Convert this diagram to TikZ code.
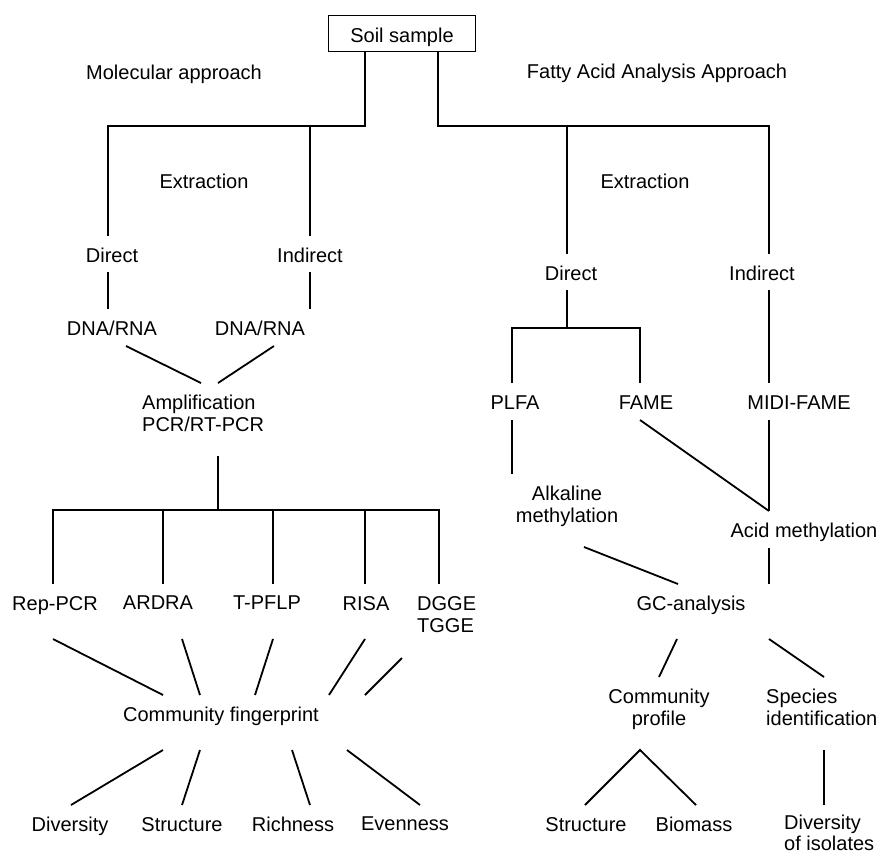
\documentclass[tikz,border=0pt]{standalone}
\usepackage{fontspec}
\setmainfont{Liberation Sans}
\begin{document}
\begin{tikzpicture}[x=1pt,y=-1pt,
  lbl/.style={inner sep=0pt, font=\fontsize{20}{22}\selectfont, anchor=north},
  lbll/.style={lbl, anchor=north west, align=left},
  lblc/.style={lbl, align=center},
  conn/.style={line width=1.8pt}]
\fill[white] (0,0) rectangle (878,854);
\useasboundingbox (0,0) rectangle (878,854);
% ---- nodes ----
\node (soil) [draw, line width=1.8pt, minimum width=147pt, minimum height=36pt, inner sep=0pt,
  text height=17.3pt, text depth=0pt, font=\fontsize{20}{22}\selectfont] at (402,33.5) {Soil sample};
\node (mol) [lbl] at (174,65) {Molecular approach};
\node (fat) [lbl] at (657,64) {Fatty Acid Analysis Approach};
\node (extL) [lbl] at (204,174) {Extraction};
\node (extR) [lbl] at (645,174) {Extraction};
\node (dirL) [lbl] at (112,248) {Direct};
\node (indL) [lbl] at (310,248) {Indirect};
\node (dirR) [lbl] at (571,266) {Direct};
\node (indR) [lbl] at (762,266) {Indirect};
\node (dnaL) [lbl] at (112,321) {DNA/RNA};
\node (dnaR) [lbl] at (260,321) {DNA/RNA};
\node (amp) [lbll] at (142,395) {Amplification\\PCR/RT-PCR};
\node (rep) [lbl] at (55,596) {Rep-PCR};
\node (ardra) [lbl] at (158,596) {ARDRA};
\node (tpflp) [lbl] at (267,596) {T-PFLP};
\node (risa) [lbl] at (366,596) {RISA};
\node (dgge) [lbll] at (417,596) {DGGE\\TGGE};
\node (cf) [lbl] at (221,707) {Community fingerprint};
\node (div) [lbl] at (70,817) {Diversity};
\node (strL) [lbl] at (182,817) {Structure};
\node (rich) [lbl] at (293,817) {Richness};
\node (even) [lbl] at (405,817) {Evenness};
\node (plfa) [lbl] at (515,396) {PLFA};
\node (fame) [lbl] at (646,396) {FAME};
\node (midi) [lbl] at (799,396) {MIDI-FAME};
\node (alk) [lblc] at (567,486) {Alkaline\\methylation};
\node (acid) [lbl] at (804,523) {Acid methylation};
\node (gc) [lbl] at (691,596) {GC-analysis};
\node (cp) [lblc] at (659,689) {Community\\profile};
\node (spec) [lbll] at (766,689) {Species\\identification};
\node (strR) [lbl] at (586,817) {Structure};
\node (bio) [lbl] at (694,817) {Biomass};
\node (doi) [lbll, font=\fontsize{20}{21}\selectfont] at (784,815) {Diversity\\of isolates};
% ---- connector coordinates ----
\coordinate (sL) at (365,52);   \coordinate (sLc) at (365,126);
\coordinate (bL) at (108,126);  \coordinate (dirLn) at (108,236);
\coordinate (indLt) at (310,126); \coordinate (indLn) at (310,236);
\coordinate (sR) at (438,52);   \coordinate (sRc) at (438,126);
\coordinate (bR) at (769,126);  \coordinate (indRn) at (769,254);
\coordinate (dirRt) at (567,126); \coordinate (dirRn) at (567,254);
\coordinate (dirLs) at (108,272); \coordinate (dnaLn) at (108,309);
\coordinate (indLs) at (310,272); \coordinate (dnaRn) at (310,309);
\coordinate (dnaLs) at (126,346); \coordinate (ampnL) at (201,383);
\coordinate (dnaRs) at (274,346); \coordinate (ampnR) at (218,383);
\coordinate (amps) at (218,456); \coordinate (ampb) at (218,510);
\coordinate (b1) at (53,510); \coordinate (b5) at (439,510);
\coordinate (b2) at (163,510); \coordinate (b3) at (273,510); \coordinate (b4) at (365,510);
\coordinate (repn) at (53,584); \coordinate (ardran) at (163,584); \coordinate (tpflpn) at (273,584);
\coordinate (risan) at (365,584); \coordinate (dggen) at (439,584);
\coordinate (reps) at (53,639); \coordinate (cf1) at (163,695);
\coordinate (ardras) at (182,639); \coordinate (cf2) at (200,695);
\coordinate (tpflps) at (273,639); \coordinate (cf3) at (255,695);
\coordinate (risas) at (365,639); \coordinate (cf4) at (329,695);
\coordinate (dgges) at (402,658); \coordinate (cf5) at (365,695);
\coordinate (cfs1) at (163,750); \coordinate (divn) at (71,805);
\coordinate (cfs2) at (200,750); \coordinate (strLn) at (182,805);
\coordinate (cfs3) at (292,750); \coordinate (richn) at (310,805);
\coordinate (cfs4) at (347,750); \coordinate (evenn) at (420,805);
\coordinate (dirRs) at (567,290); \coordinate (dirRb) at (567,328);
\coordinate (bp) at (512,328); \coordinate (bf) at (640,328);
\coordinate (plfan) at (512,383); \coordinate (famen) at (640,383);
\coordinate (indRs) at (769,290); \coordinate (midin) at (769,383);
\coordinate (plfas) at (512,420); \coordinate (alkn) at (512,474);
\coordinate (fames) at (640,420); \coordinate (acidn) at (769,511);
\coordinate (midis) at (769,420);
\coordinate (acids) at (769,548); \coordinate (gcnR) at (769,584);
\coordinate (alks) at (584,547); \coordinate (gcnL) at (678,584);
\coordinate (gcsL) at (677,639); \coordinate (cpn) at (659,677);
\coordinate (gcsR) at (769,639); \coordinate (specn) at (824,677);
\coordinate (cps) at (640,750); \coordinate (strRn) at (585,805); \coordinate (bion) at (696,805);
\coordinate (specs) at (824,750); \coordinate (doin) at (824,805);
% ---- connectors ----
\draw[conn] (sL) -- (sLc) -- (bL) -- (dirLn);
\draw[conn] (indLt) -- (indLn);
\draw[conn] (sR) -- (sRc) -- (bR) -- (indRn);
\draw[conn] (dirRt) -- (dirRn);
\draw[conn] (dirLs) -- (dnaLn);
\draw[conn] (indLs) -- (dnaRn);
\draw[conn] (dnaLs) -- (ampnL);
\draw[conn] (dnaRs) -- (ampnR);
\draw[conn] (amps) -- (ampb);
\draw[conn] (repn) -- (b1) -- (b5) -- (dggen);
\draw[conn] (b2) -- (ardran);
\draw[conn] (b3) -- (tpflpn);
\draw[conn] (b4) -- (risan);
\draw[conn] (reps) -- (cf1);
\draw[conn] (ardras) -- (cf2);
\draw[conn] (tpflps) -- (cf3);
\draw[conn] (risas) -- (cf4);
\draw[conn] (dgges) -- (cf5);
\draw[conn] (cfs1) -- (divn);
\draw[conn] (cfs2) -- (strLn);
\draw[conn] (cfs3) -- (richn);
\draw[conn] (cfs4) -- (evenn);
\draw[conn] (dirRs) -- (dirRb);
\draw[conn] (plfan) -- (bp) -- (bf) -- (famen);
\draw[conn] (indRs) -- (midin);
\draw[conn] (plfas) -- (alkn);
\draw[conn] (fames) -- (acidn);
\draw[conn] (midis) -- (acidn);
\draw[conn] (acids) -- (gcnR);
\draw[conn] (alks) -- (gcnL);
\draw[conn] (gcsL) -- (cpn);
\draw[conn] (gcsR) -- (specn);
\draw[conn] (strRn) -- (cps) -- (bion);
\draw[conn] (specs) -- (doin);
\end{tikzpicture}
\end{document}
